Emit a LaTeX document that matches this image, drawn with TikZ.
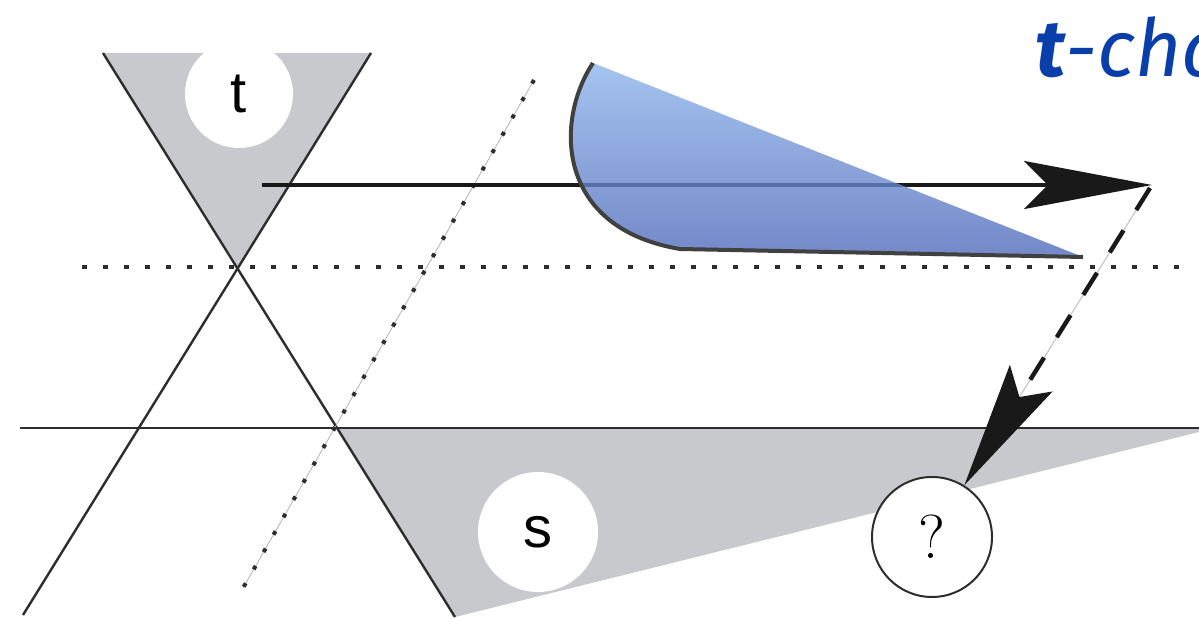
\documentclass[tikz,border=0pt]{standalone}
\usepackage{fontspec}
\newfontfamily\fira{Fira Sans}
\newfontfamily\lsans{Liberation Sans}
\usetikzlibrary{arrows.meta}
\definecolor{greyfill}{RGB}{200,201,204}
\definecolor{linegray}{RGB}{45,45,45}
\definecolor{bluetop}{RGB}{142,180,235}
\definecolor{bluebot}{RGB}{81,107,187}
\definecolor{titleblue}{RGB}{10,62,170}
\tikzset{
  axis/.style={draw=linegray, line width=1.2pt},
  dotline/.style={draw=linegray, line width=1.6pt, dash pattern=on 2.5pt off 8pt},
  bigarrow/.style={draw=black!90, line width=2.2pt, -{Stealth[length=64pt,width=24pt,inset=12pt]}},
  dasharrow/.style={draw=black!90, line width=2.2pt, dash pattern=on 13pt off 12pt, -{Stealth[length=63pt,width=25pt,inset=11pt]}},
  whitedisc/.style={circle, fill=white, inner sep=0pt, font=\lsans\fontsize{29}{30}\selectfont},
  bluefan/.style={top color=bluetop, bottom color=bluebot, fill opacity=0.8},
  fanedge/.style={draw=black!75, line width=2pt, line join=round}
}
\begin{document}
\begin{tikzpicture}[x=0.5pt,y=-0.5pt]
\useasboundingbox (0,0) rectangle (1199,619);
\clip (0,0) rectangle (1199,619);
% key points
\coordinate (tl) at (103,53);
\coordinate (tr) at (371,53);
\coordinate (apex) at (238,267);
\coordinate (c1) at (337,428);
\coordinate (b1) at (455,617);
\coordinate (b2) at (23,615);
% grey regions
\fill[greyfill] (tl) -- (tr) -- (apex) -- cycle;
\fill[greyfill] (c1) -- (1199,428) -- (1199,432) -- (b1) -- cycle;
% white discs
\node[whitedisc, minimum size=54pt] (t) at (239,94) {t};
\node[whitedisc, minimum size=60pt] (s) at (538,532) {s};
% lines
\draw[axis] (tl) -- (b1);
\draw[axis] (tr) -- (b2);
\draw[axis] (20,428) coordinate (h0) -- (1199,428) coordinate (h1);
\draw[dotline] (82,267) coordinate (d0) -- (1182,267) coordinate (d1);
\coordinate (e0) at (534,80);
\coordinate (e1) at (243,588);
\draw[gray!60, line width=0.4pt] (e0) -- (e1);
\draw[draw=linegray, line width=2pt, dash pattern=on 2pt off 8pt] (e0) -- (e1);
% question circle
\node[circle, draw=linegray, line width=1pt, fill=white, inner sep=0pt, minimum size=60pt,
      font=\fontsize{31}{32}\selectfont] (q) at (932,537) {?};
% arrows
\coordinate (a0) at (262,185);
\coordinate (a1) at (1152,185);
\coordinate (a2) at (1150,188);
\draw[bigarrow] (a0) -- (a1);
\draw[gray!50, line width=0.5pt, shorten >=20pt] (a2) -- (q);
\draw[dasharrow] (a2) -- (q);
% blue fan
\coordinate (f0) at (593,63);
\coordinate (f1) at (680,249);
\coordinate (f2) at (1083,257);
\shade[bluefan] (f0) .. controls (555,120) and (555,228) .. (f1) -- (f2) -- cycle;
\draw[fanedge] (f0) .. controls (555,120) and (555,228) .. (f1) -- (f2);
% title
\node[anchor=base west, inner sep=0pt, text=titleblue, font=\fira\fontsize{40}{42}\selectfont] (title) at (1035,77) {{\bfseries\itshape t}{\itshape -cha}};
\end{tikzpicture}
\end{document}
